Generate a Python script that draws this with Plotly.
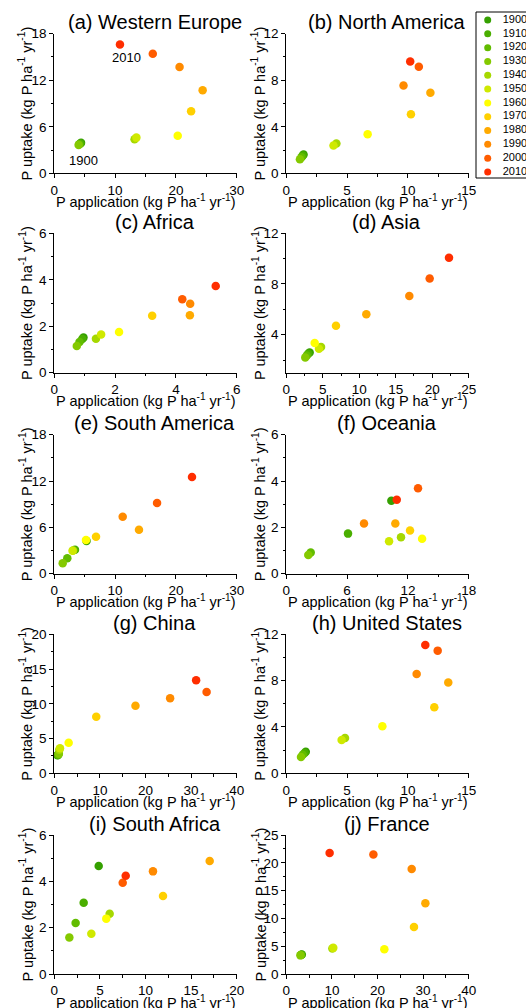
import plotly.graph_objects as go

# ---------------- data ----------------
years = [1900, 1910, 1920, 1930, 1940, 1950, 1960, 1970, 1980, 1990, 2000, 2010]
year_labels = [str(y) for y in years]
year_colors = ["#35a000", "#4aae00", "#62bc00", "#84c900", "#a6d800", "#cfe900",
               "#ffff00", "#ffd000", "#ffaa00", "#ff8a00", "#ff5c00", "#ff2e00"]

titles = ["(a) Western Europe", "(b) North America", "(c) Africa", "(d) Asia",
          "(e) South America", "(f) Oceania", "(g) China", "(h) United States",
          "(i) South Africa", "(j) France"]

# P application (x) and P uptake (y), kg P ha-1 yr-1, per decade 1900..2010
weu_app = [4.4, 4.3, 4.1, 4.0, 13.2, 13.5, 20.3, 22.5, 24.4, 20.6, 16.2, 10.8]
weu_upt = [3.95, 3.85, 3.75, 3.65, 4.4, 4.6, 4.85, 8.0, 10.7, 13.7, 15.4, 16.6]

nam_app = [1.42, 1.35, 1.25, 1.12, 4.12, 3.88, 6.69, 10.25, 11.85, 9.64, 10.9, 10.19]
nam_upt = [1.62, 1.52, 1.38, 1.2, 2.56, 2.38, 3.36, 5.08, 6.92, 7.55, 9.16, 9.62]

afr_app = [0.96, 0.92, 0.83, 0.74, 1.37, 1.54, 2.13, 3.22, 4.46, 4.47, 4.21, 5.31]
afr_upt = [1.52, 1.45, 1.32, 1.15, 1.46, 1.64, 1.75, 2.45, 2.47, 2.97, 3.16, 3.73]

asi_app = [3.2, 3.0, 2.8, 2.6, 4.76, 4.48, 3.89, 6.81, 10.97, 16.86, 19.65, 22.3]
asi_upt = [2.6, 2.5, 2.35, 2.2, 3.02, 2.89, 3.34, 4.71, 5.61, 7.06, 8.43, 10.07]

sam_app = [5.3, 3.4, 2.14, 1.38, 3.1, 3.0, 5.21, 6.86, 13.93, 11.25, 16.9, 22.65]
sam_upt = [4.25, 3.1, 1.99, 1.35, 3.0, 2.98, 4.36, 4.79, 5.7, 7.38, 9.16, 12.52]

oce_app = [10.37, 6.09, 2.41, 2.17, 11.32, 10.14, 13.4, 12.21, 10.76, 7.67, 13.0, 10.9]
oce_upt = [3.15, 1.73, 0.92, 0.81, 1.57, 1.40, 1.51, 1.86, 2.17, 2.17, 3.69, 3.19]

chn_app = [0.7, 0.8, 0.9, 1.0, 1.1, 1.25, 3.15, 9.2, 17.8, 25.4, 33.4, 31.1]
chn_upt = [2.6, 2.65, 2.7, 2.8, 3.4, 3.6, 4.4, 8.15, 9.73, 10.8, 11.7, 13.4]

usa_app = [1.6, 1.5, 1.35, 1.21, 4.83, 4.55, 7.9, 12.17, 13.32, 10.72, 12.45, 11.43]
usa_upt = [1.86, 1.75, 1.6, 1.41, 3.05, 2.88, 4.06, 5.7, 7.83, 8.58, 10.59, 11.08]

zaf_app = [4.87, 3.22, 2.34, 1.65, 6.07, 4.06, 5.7, 11.92, 17.04, 10.82, 7.5, 7.83]
zaf_upt = [4.66, 3.08, 2.2, 1.58, 2.6, 1.74, 2.39, 3.37, 4.88, 4.43, 3.94, 4.24]

fra_app = [3.4, 3.3, 3.2, 3.1, 10.1, 10.3, 21.5, 28.0, 30.5, 27.5, 19.1, 9.5]
fra_upt = [3.5, 3.45, 3.4, 3.35, 4.6, 4.7, 4.45, 8.47, 12.74, 18.9, 21.5, 21.75]

applications = [weu_app, nam_app, afr_app, asi_app, sam_app, oce_app, chn_app, usa_app, zaf_app, fra_app]
uptakes = [weu_upt, nam_upt, afr_upt, asi_upt, sam_upt, oce_upt, chn_upt, usa_upt, zaf_upt, fra_upt]

# axis ranges / ticks per panel
x_ranges = [[0, 30], [0, 15], [0, 6], [0, 25], [0, 30], [0, 18], [0, 40], [0, 15], [0, 20], [0, 40]]
x_dticks = [10, 5, 2, 5, 10, 6, 10, 5, 5, 10]
y_ranges = [[0, 18], [0, 12], [0, 6], [1, 12], [0, 18], [0, 6], [0, 20], [0, 12], [0, 6], [0, 25]]
y_dticks = [6, 4, 2, 4, 6, 2, 5, 4, 2, 5]

# ---------------- layout geometry ----------------
W, H = 526, 1008
col_px = [(54.3, 236.7), (286.3, 468.7)]
row_px = [(33.7, 173.3), (233.3, 372.7), (434.7, 573.7), (634.3, 773.3), (835.0, 974.0)]
ylab_x = [26, 259]

FONT = "Arial, 'Liberation Sans', sans-serif"

fig = go.Figure()
layout_axes = {}
annotations = []

for i in range(10):
    r, c = divmod(i, 2)
    x0, x1 = col_px[c]
    t, b = row_px[r]
    n = i + 1
    xa = "x" if n == 1 else f"x{n}"
    ya = "y" if n == 1 else f"y{n}"
    fig.add_trace(go.Scatter(
        x=applications[i], y=uptakes[i], mode="markers",
        marker=dict(color=year_colors, size=8.5, line=dict(width=0)),
        xaxis=xa, yaxis=ya, showlegend=False, cliponaxis=False,
        text=year_labels, hoverinfo="text+x+y"))
    common = dict(showline=True, linecolor="black", linewidth=1, ticks="outside",
                  ticklen=4, tickwidth=1, tickcolor="black", showgrid=False,
                  zeroline=False, tickfont=dict(family=FONT, size=13.5, color="black"))
    layout_axes[f"xaxis{n}"] = dict(
        domain=[x0 / W, x1 / W], range=x_ranges[i], dtick=x_dticks[i], tick0=0,
        anchor=ya, minor=dict(ticks="outside", ticklen=2.5, dtick=x_dticks[i] / 2,
                              tickcolor="black", showgrid=False), **common)
    layout_axes[f"yaxis{n}"] = dict(
        domain=[1 - b / H, 1 - t / H], range=y_ranges[i], dtick=y_dticks[i], tick0=0,
        anchor=xa, minor=dict(ticks="outside", ticklen=2.5, dtick=y_dticks[i] / 2,
                              tickcolor="black", showgrid=False), **common)
    # panel title
    annotations.append(dict(text=titles[i], xref="paper", yref="paper",
                            x=((x0 + x1) / 2 + 9) / W, y=1 - (t - 11.5) / H,
                            xanchor="center", yanchor="middle", showarrow=False,
                            font=dict(family=FONT, size=20, color="black")))
    # axis titles
    annotations.append(dict(text="P application (kg P ha<sup>-1</sup> yr<sup>-1</sup>)",
                            xref="paper", yref="paper", x=((x0 + x1) / 2) / W,
                            y=1 - (b + 27.5) / H, xanchor="center", yanchor="middle",
                            showarrow=False, font=dict(family=FONT, size=14.5, color="black")))
    annotations.append(dict(text="P uptake (kg P ha<sup>-1</sup> yr<sup>-1</sup>)",
                            xref="paper", yref="paper", x=ylab_x[c] / W,
                            y=1 - ((t + b) / 2) / H, xanchor="center", yanchor="middle",
                            textangle=-90, showarrow=False,
                            font=dict(family=FONT, size=14.5, color="black")))

# year labels in panel (a)
annotations.append(dict(text=year_labels[-1], x=11.8, y=14.96, xref="x", yref="y",
                        showarrow=False, font=dict(family=FONT, size=13, color="black")))
annotations.append(dict(text=year_labels[0], x=4.77, y=1.71, xref="x", yref="y",
                        showarrow=False, font=dict(family=FONT, size=13, color="black")))

# ---------------- year-colour key ----------------
lx0, lx1, ly0, ly1 = 476.0, 526.0, 12.0, 178.0
fig.add_trace(go.Scatter(
    x=[0] * len(years), y=years, mode="markers",
    marker=dict(color=year_colors, size=7), xaxis="x11", yaxis="y11",
    showlegend=False, cliponaxis=False, hoverinfo="skip"))
fig.add_trace(go.Scatter(
    x=[15] * len(years), y=years, mode="text", text=year_labels,
    textposition="middle right", textfont=dict(family=FONT, size=11, color="black"),
    xaxis="x11", yaxis="y11", showlegend=False, cliponaxis=False, hoverinfo="skip"))
layout_axes["xaxis11"] = dict(domain=[lx0 / W, lx1 / W], range=[-11.7, 38.3],
                              visible=False, anchor="y11", fixedrange=True)
layout_axes["yaxis11"] = dict(domain=[1 - ly1 / H, 1 - ly0 / H], range=[2014.34, 1894.21],
                              visible=False, anchor="x11", fixedrange=True)

fig.update_layout(
    width=W, height=H, margin=dict(l=0, r=0, t=0, b=0, autoexpand=False),
    paper_bgcolor="white", plot_bgcolor="white", showlegend=False,
    annotations=annotations,
    shapes=[dict(type="rect", xref="paper", yref="paper", x0=lx0 / W, x1=1.05,
                 y0=1 - ly1 / H, y1=1 - ly0 / H, line=dict(color="black", width=1))],
    font=dict(family=FONT, color="black"),
    **layout_axes)

fig.write_html("out.html", config={"displayModeBar": False},
               post_script="document.body.style.margin='0';document.body.style.overflow='hidden';")
